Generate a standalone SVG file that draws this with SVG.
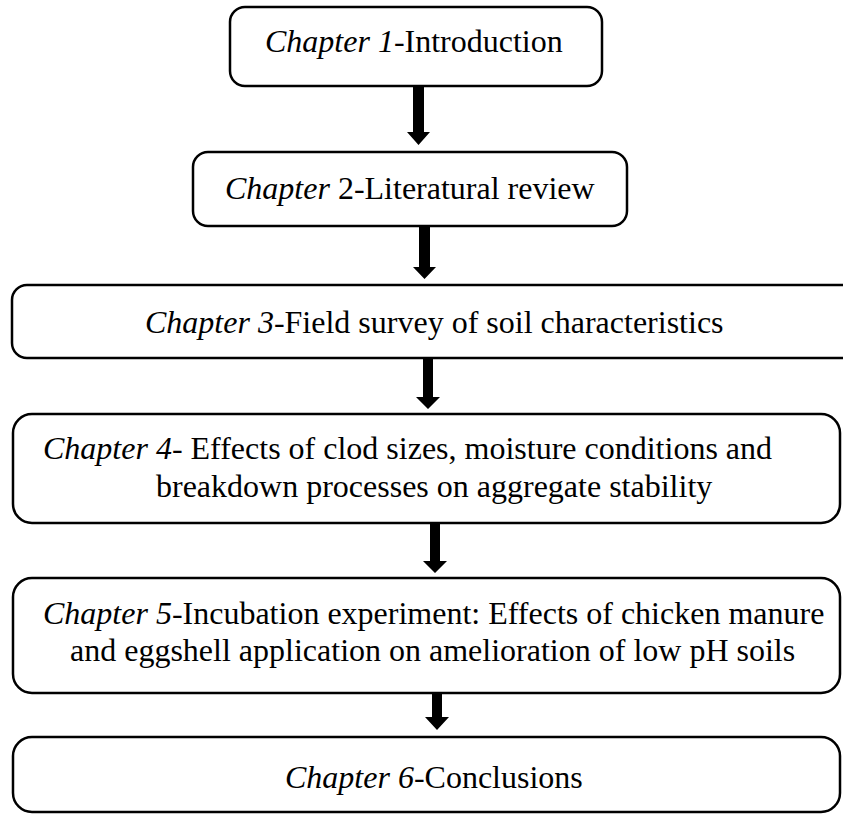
<svg xmlns="http://www.w3.org/2000/svg" width="843" height="814" viewBox="0 0 843 814">
<style>
.box{fill:#fff;stroke:#000;stroke-width:2.5}
.t{font-family:"Liberation Serif","Times New Roman",serif;font-size:32px;fill:#000}
.i{font-style:italic}
.arr{fill:#000}
</style>
<rect width="843" height="814" fill="#fff"/>
<g id="ch1">
<rect class="box" x="230" y="7" width="372" height="79" rx="15"/>
<text class="t" x="265" y="52"><tspan class="i">Chapter 1</tspan>-Introduction</text>
</g>
<g id="ch2">
<rect class="box" x="193" y="152" width="434" height="74" rx="15"/>
<text class="t" x="225" y="199"><tspan class="i">Chapter </tspan>2-Literatural review</text>
</g>
<g id="ch3">
<rect class="box" x="12" y="285" width="845" height="73" rx="15"/>
<text class="t" x="145" y="333"><tspan class="i">Chapter 3</tspan>-Field survey of soil characteristics</text>
</g>
<g id="ch4">
<rect class="box" x="13" y="414" width="827" height="109" rx="19"/>
<text class="t" x="43" y="459"><tspan class="i">Chapter 4</tspan>- Effects of clod sizes, moisture conditions and</text>
<text class="t" x="156" y="497">breakdown processes on aggregate stability</text>
</g>
<g id="ch5">
<rect class="box" x="13" y="578" width="827" height="115" rx="19"/>
<text class="t" x="43" y="624"><tspan class="i">Chapter 5</tspan>-Incubation experiment: Effects of chicken manure</text>
<text class="t" x="70" y="661">and eggshell application on amelioration of low pH soils</text>
</g>
<g id="ch6">
<rect class="box" x="13" y="737" width="827" height="75" rx="19"/>
<text class="t" x="285" y="788"><tspan class="i">Chapter 6</tspan>-Conclusions</text>
</g>
<g id="connectors">
<polygon class="arr" points="413,87 424,87 424,132 430,132 418.5,145 407,132 413,132"/>
<polygon class="arr" points="419,227 430,227 430,267 436,267 424.5,279 413,267 419,267"/>
<polygon class="arr" points="423,359 433,359 433,397 440,397 428,409 416,397 423,397"/>
<polygon class="arr" points="430,524 440,524 440,561 447,561 435,573 423,561 430,561"/>
<polygon class="arr" points="432,694 442,694 442,717 449,717 437,730 425,717 432,717"/>
</g>
</svg>
